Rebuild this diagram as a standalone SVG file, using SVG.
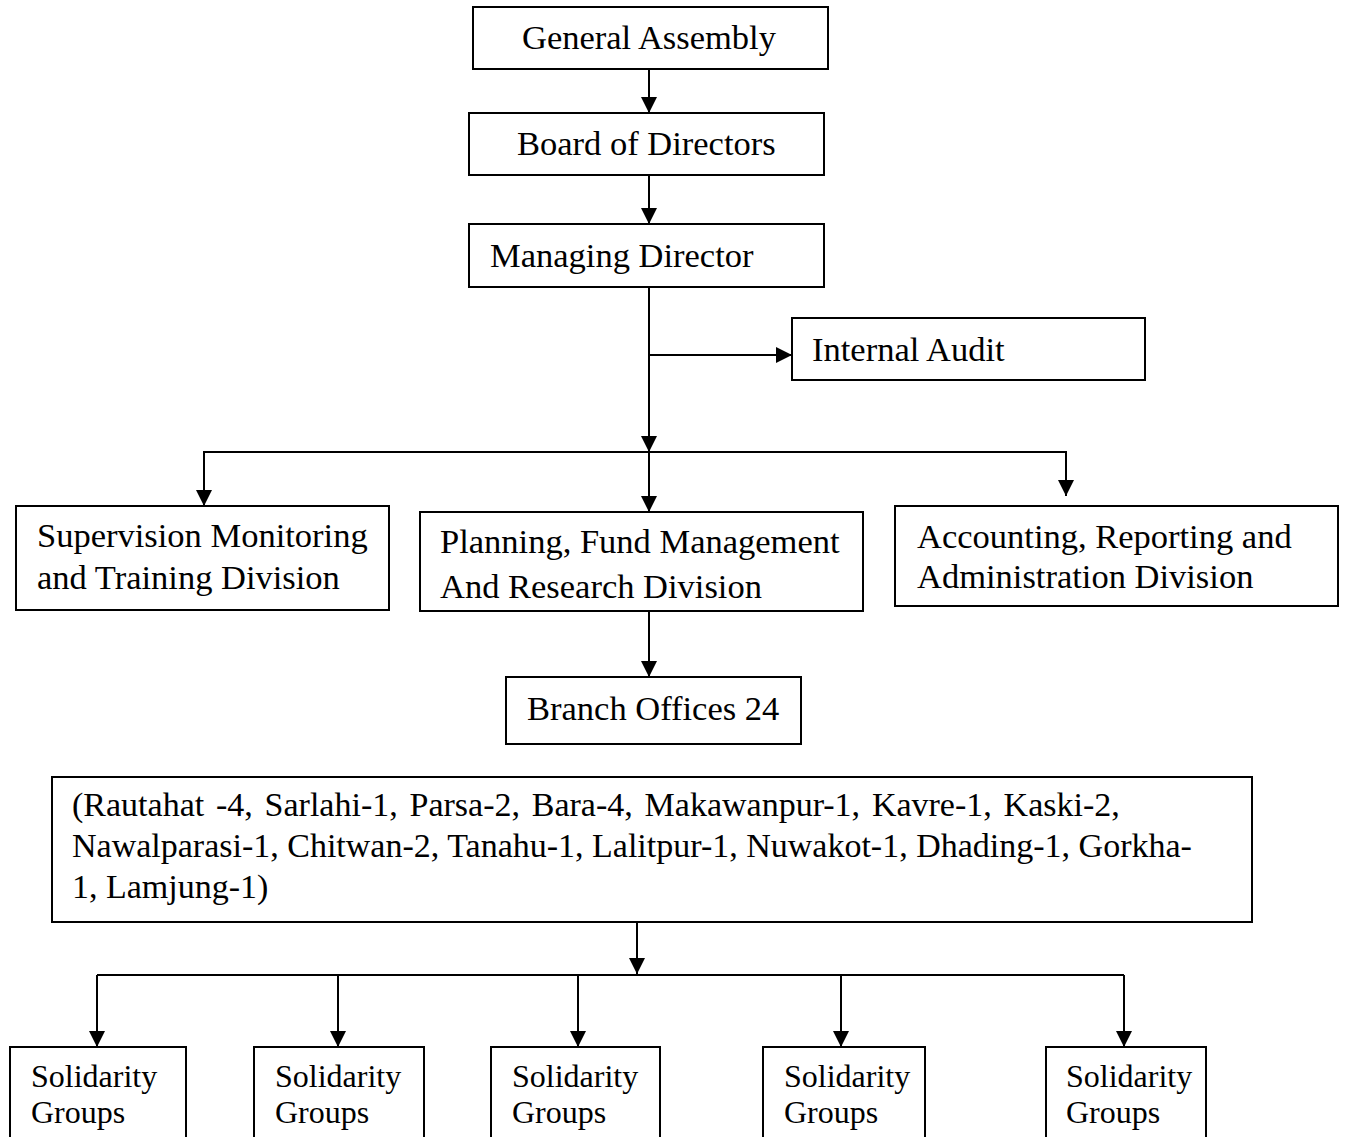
<svg xmlns="http://www.w3.org/2000/svg" width="1345" height="1137" viewBox="0 0 1345 1137">
<style>
.box{fill:#fff;stroke:#000;stroke-width:2}
.t{font-family:"Liberation Serif","Times New Roman",serif;font-size:34.5px;fill:#000}
.b{font-family:"Liberation Serif","Times New Roman",serif;font-size:34px;fill:#000}
.s{font-family:"Liberation Serif","Times New Roman",serif;font-size:32px;fill:#000}
.c{fill:none;stroke:#000;stroke-width:2}
.a{marker-end:url(#ah)}
</style>
<defs>
<marker id="ah" markerUnits="userSpaceOnUse" markerWidth="16" markerHeight="16" refX="16" refY="8" orient="auto">
<path d="M0,0 L16,8 L0,16 z" fill="#000"/>
</marker>
</defs>
<rect width="1345" height="1137" fill="#fff"/>
<g id="connectors">
<path class="c a" d="M649,69 V113"/>
<path class="c a" d="M649,175 V224"/>
<path class="c a" d="M649,287 V452"/>
<path class="c a" d="M649,452 V512"/>
<path class="c a" d="M649,355 H792"/>
<path class="c a" d="M649,452 H204 V506"/>
<path class="c a" d="M649,452 H1066 V496"/>
<path class="c a" d="M649,611 V677"/>
<path class="c a" d="M637,922 V974"/>
<path class="c" d="M97,975 H1124"/>
<path class="c a" d="M97,975 V1047"/>
<path class="c a" d="M338,975 V1047"/>
<path class="c a" d="M578,975 V1047"/>
<path class="c a" d="M841,975 V1047"/>
<path class="c a" d="M1124,975 V1047"/>
</g>
<g id="general-assembly"><rect class="box" x="473" y="7" width="355" height="62"/><text class="t" x="522" y="49">General Assembly</text></g>
<g id="board"><rect class="box" x="469" y="113" width="355" height="62"/><text class="t" x="517" y="155">Board of Directors</text></g>
<g id="managing-director"><rect class="box" x="469" y="224" width="355" height="63"/><text class="t" x="490" y="267">Managing Director</text></g>
<g id="internal-audit"><rect class="box" x="792" y="318" width="353" height="62"/><text class="t" x="812" y="361">Internal Audit</text></g>
<g id="supervision"><rect class="box" x="16" y="506" width="373" height="104"/><text class="t" x="37" y="547">Supervision Monitoring</text><text class="t" x="37" y="589">and Training Division</text></g>
<g id="planning"><rect class="box" x="420" y="512" width="443" height="99"/><text class="t" x="440" y="553">Planning, Fund Management</text><text class="t" x="440" y="598">And Research Division</text></g>
<g id="accounting"><rect class="box" x="895" y="506" width="443" height="100"/><text class="t" x="917" y="548">Accounting, Reporting and</text><text class="t" x="917" y="588">Administration Division</text></g>
<g id="branch-offices"><rect class="box" x="506" y="677" width="295" height="67"/><text class="t" x="527" y="720">Branch Offices 24</text></g>
<g id="districts"><rect class="box" x="52" y="777" width="1200" height="145"/>
<text class="b" x="72" y="816" word-spacing="3.3">(Rautahat -4, Sarlahi-1, Parsa-2, Bara-4, Makawanpur-1, Kavre-1, Kaski-2,</text>
<text class="b" x="72" y="857">Nawalparasi-1, Chitwan-2, Tanahu-1, Lalitpur-1, Nuwakot-1, Dhading-1, Gorkha-</text>
<text class="b" x="72" y="898">1, Lamjung-1)</text></g>
<g id="sg1"><rect class="box" x="10" y="1047" width="176" height="100"/><text class="s" x="31" y="1087">Solidarity</text><text class="s" x="31" y="1123">Groups</text></g>
<g id="sg2"><rect class="box" x="254" y="1047" width="170" height="100"/><text class="s" x="275" y="1087">Solidarity</text><text class="s" x="275" y="1123">Groups</text></g>
<g id="sg3"><rect class="box" x="491" y="1047" width="169" height="100"/><text class="s" x="512" y="1087">Solidarity</text><text class="s" x="512" y="1123">Groups</text></g>
<g id="sg4"><rect class="box" x="763" y="1047" width="162" height="100"/><text class="s" x="784" y="1087">Solidarity</text><text class="s" x="784" y="1123">Groups</text></g>
<g id="sg5"><rect class="box" x="1046" y="1047" width="160" height="100"/><text class="s" x="1066" y="1087">Solidarity</text><text class="s" x="1066" y="1123">Groups</text></g>
</svg>
